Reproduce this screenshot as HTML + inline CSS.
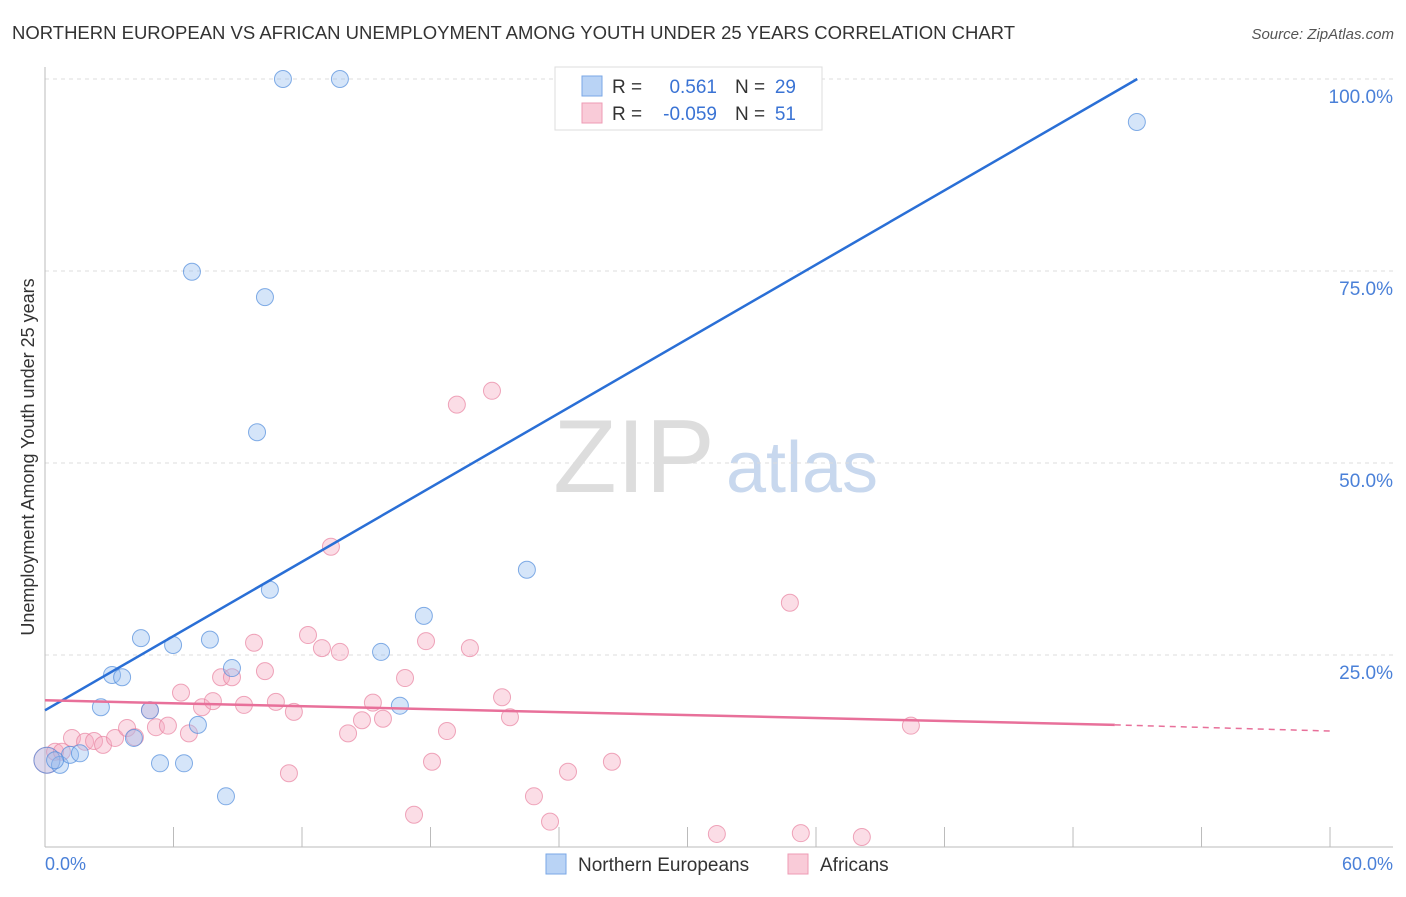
<!DOCTYPE html>
<html><head><meta charset="utf-8"><style>
body{margin:0;background:#fff;font-family:"Liberation Sans",sans-serif}
svg text{font-family:"Liberation Sans",sans-serif}
</style></head><body>
<svg width="1406" height="892">
<text x="12" y="39" font-size="18.5" fill="#333" textLength="1003">NORTHERN EUROPEAN VS AFRICAN UNEMPLOYMENT AMONG YOUTH UNDER 25 YEARS CORRELATION CHART</text>
<text x="1394" y="39" font-size="15" fill="#555" text-anchor="end" font-style="italic">Source: ZipAtlas.com</text>
<text x="634" y="492" font-size="104" fill="#ddd" font-family="Liberation Serif" text-anchor="middle">ZIP</text>
<text x="802" y="492" font-size="72" fill="#c8d8ee" text-anchor="middle">atlas</text>
<g id="grid"></g>
<g id="marks"></g>
<text transform="translate(34,457) rotate(-90)" font-size="18" fill="#333" text-anchor="middle">Unemployment Among Youth under 25 years</text>
<text x="45" y="870" font-size="18" fill="#4a80d8">0.0%</text>
<text x="1393" y="870" font-size="18" fill="#4a80d8" text-anchor="end">60.0%</text>
<g>
<rect x="555" y="67" width="267" height="63" fill="#fff" stroke="#ddd"/>
<rect x="582" y="76" width="20" height="20" fill="#b9d3f5" stroke="#7aa7e6"/>
<rect x="582" y="103" width="20" height="20" fill="#f9cbd8" stroke="#ee9bb4"/>
<text x="612" y="93" font-size="19" fill="#333">R =</text><text x="717" y="93" font-size="19" fill="#3a73d4" text-anchor="end">0.561</text>
<text x="735" y="93" font-size="19" fill="#333">N =</text><text x="796" y="93" font-size="19" fill="#3a73d4" text-anchor="end">29</text>
<text x="612" y="120" font-size="19" fill="#333">R =</text><text x="717" y="120" font-size="19" fill="#3a73d4" text-anchor="end">-0.059</text>
<text x="735" y="120" font-size="19" fill="#333">N =</text><text x="796" y="120" font-size="19" fill="#3a73d4" text-anchor="end">51</text>
</g>
<g>
<rect x="546" y="854" width="20" height="20" fill="#b9d3f5" stroke="#7aa7e6"/>
<text x="578" y="871" font-size="19" fill="#333">Northern Europeans</text>
<rect x="788" y="854" width="20" height="20" fill="#f9cbd8" stroke="#ee9bb4"/>
<text x="820" y="871" font-size="19" fill="#333">Africans</text>
</g>
</svg>
<script>
const yTicks=[25,50,75,100];
const yTickLabels=["25.0%","50.0%","75.0%","100.0%"];
const xTicks=[0,6,12,18,24,30,36,42,48,54,60];
const blueX=[0.09,0.70,1.17,1.63,2.61,3.13,3.60,4.15,4.48,4.90,5.37,5.98,6.49,6.86,7.14,7.70,8.45,8.73,9.90,10.27,10.50,11.11,13.77,15.69,16.57,17.69,22.50,50.98,0.47];
const blueY=[11.3,10.7,12.0,12.2,18.2,22.4,22.1,14.2,27.2,17.8,10.9,26.3,10.9,74.9,15.9,27.0,6.6,23.3,54.0,71.6,33.5,100,100,25.4,18.4,30.1,36.1,94.4,11.3];
const pinkX=[0.09,0.47,0.79,1.26,1.87,2.29,2.71,3.27,3.83,4.20,4.90,5.18,5.74,6.35,6.72,7.33,7.84,8.22,8.73,9.29,9.76,10.27,10.78,11.39,11.62,12.28,12.93,13.35,13.77,14.15,14.80,15.31,15.78,16.81,17.23,17.79,18.07,18.77,19.23,19.84,20.87,21.34,21.71,22.83,23.58,24.42,26.47,31.37,34.78,35.29,38.14,40.43];
const pinkY=[11.3,12.4,12.4,14.2,13.7,13.8,13.3,14.2,15.5,14.3,17.8,15.6,15.8,20.1,14.8,18.2,19.0,22.1,22.1,18.5,26.6,22.9,18.9,9.6,17.6,27.6,25.9,39.1,25.4,14.8,16.5,18.8,16.7,22.0,4.2,26.8,11.1,15.1,57.6,25.9,59.4,19.5,16.9,6.6,3.3,9.8,11.1,1.7,31.8,1.8,1.3,15.8];
const blueTrend=[17.8,100];
const blueTrendX=[0,51];
const pinkTrend=[19.1,15.9,15.1];
const pinkTrendX=[0,49.95,60];
const X=v=>45+v*21.417, Y=v=>847-v*7.68;
const NS="http://www.w3.org/2000/svg";
function mk(tag,attrs,parent){const e=document.createElementNS(NS,tag);for(const k in attrs)e.setAttribute(k,attrs[k]);parent.appendChild(e);return e;}
const grid=document.getElementById('grid'), marks=document.getElementById('marks');
yTicks.forEach((t,i)=>{
 const l=mk('line',{x1:45,x2:1393,y1:Y(t),y2:Y(t),stroke:'#ddd','stroke-dasharray':'4,4'},grid);
 
 
 const tx=mk('text',{x:1393,y:Y(t)+24,'font-size':19,fill:'#4a80d8','text-anchor':'end'},grid);
 tx.textContent=yTickLabels[i];
 
 
});
const ax=mk('line',{x1:45,x2:45,y1:67,y2:847,stroke:'#bbb'},grid);


const bx=mk('line',{x1:45,x2:1393,y1:847,y2:847,stroke:'#bbb'},grid);


xTicks.forEach(t=>{
 const l=mk('line',{x1:X(t),x2:X(t),y1:827,y2:847,stroke:'#bbb'},grid);
 
 
});
pinkX.forEach((x,i)=>{
 const c=mk('circle',{cx:X(x),cy:Y(pinkY[i]),r:i===0?13:8.5,fill:i===0?'rgba(246,170,193,0.3)':'rgba(246,170,193,0.4)',stroke:'rgba(232,130,160,0.7)','stroke-width':1},marks);
 
 
});
blueX.forEach((x,i)=>{
 const c=mk('circle',{cx:X(x),cy:Y(blueY[i]),r:i===0?13:8.5,fill:i===0?'rgba(150,190,240,0.3)':'rgba(150,190,240,0.4)',stroke:'rgba(80,140,220,0.7)','stroke-width':1},marks);
 
 
});
const bl=mk('line',{x1:X(blueTrendX[0]),y1:Y(blueTrend[0]),x2:X(blueTrendX[1]),y2:Y(blueTrend[1]),stroke:'#2a6fd6','stroke-width':2.5},marks);


const pl=mk('line',{x1:X(pinkTrendX[0]),y1:Y(pinkTrend[0]),x2:X(pinkTrendX[1]),y2:Y(pinkTrend[1]),stroke:'#e8709a','stroke-width':2.5},marks);


const pd=mk('line',{x1:X(pinkTrendX[1]),y1:Y(pinkTrend[1]),x2:X(pinkTrendX[2]),y2:Y(pinkTrend[2]),stroke:'#e8709a','stroke-width':1.5,'stroke-dasharray':'6,5'},marks);


</script>
</body></html>
